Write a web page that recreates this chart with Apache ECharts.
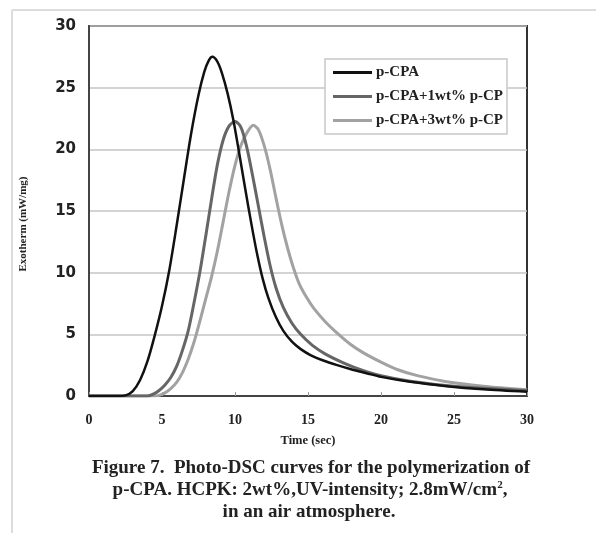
<!DOCTYPE html>
<html>
<head>
<meta charset="utf-8">
<script src="https://cdn.jsdelivr.net/npm/echarts@6/dist/echarts.min.js"></script>
<style>
html,body{margin:0;padding:0;background:#fff;}
#chart{width:596px;height:533px;}
</style>
</head>
<body>
<div id="chart"></div>
<script>
// ---- data ----
var seriesNames = ['p-CPA', 'p-CPA+1wt% p-CP', 'p-CPA+3wt% p-CP'];

var timeCPA = [0, 1, 2, 2.5, 3.0, 3.5, 4.0, 4.5, 5.0, 5.5, 6.0, 6.5, 7.0, 7.5, 7.9, 8.2, 8.45, 8.8, 9.1, 9.5, 9.9, 10.3, 10.7, 11.1, 11.5, 11.9, 12.3, 12.8, 13.3, 13.9, 14.5, 15.2, 16.0, 17.0, 18.0, 19.0, 20, 22, 24.5, 27, 30];
var exoCPA  = [0, 0, 0, 0.05, 0.4, 1.3, 2.8, 4.9, 7.3, 10.2, 13.8, 17.6, 21.3, 24.4, 26.3, 27.2, 27.5, 27.1, 26.2, 24.5, 22.3, 19.6, 16.8, 14.1, 11.6, 9.5, 7.9, 6.4, 5.3, 4.4, 3.8, 3.3, 2.9, 2.5, 2.15, 1.85, 1.55, 1.15, 0.8, 0.55, 0.35];

var time1wt = [0, 2, 4.0, 4.4, 4.8, 5.2, 5.6, 6.0, 6.4, 6.8, 7.2, 7.6, 8.0, 8.4, 8.8, 9.2, 9.6, 10.0, 10.4, 10.8, 11.2, 11.6, 12.0, 12.4, 12.8, 13.3, 13.9, 14.5, 15.3, 16.2, 17.5, 18.7, 20, 22, 25, 30];
var exo1wt  = [0, 0, 0, 0.15, 0.45, 0.9, 1.5, 2.4, 3.7, 5.3, 7.6, 10.1, 13.0, 16.0, 18.8, 20.8, 21.9, 22.25, 21.8, 20.2, 17.9, 15.4, 12.9, 10.6, 8.8, 7.2, 5.9, 5.0, 4.1, 3.4, 2.65, 2.1, 1.65, 1.2, 0.8, 0.45];

var time3wt = [0, 3, 4.4, 4.8, 5.2, 5.6, 6.0, 6.4, 6.8, 7.2, 7.6, 8.0, 8.4, 8.8, 9.2, 9.6, 10.0, 10.4, 10.8, 11.25, 11.6, 12.0, 12.4, 12.8, 13.2, 13.6, 14.0, 14.4, 14.9, 15.4, 16.2, 17.0, 17.9, 18.8, 20.0, 21.1, 22.5, 24.5, 27, 30];
var exo3wt  = [0, 0, 0, 0.05, 0.25, 0.6, 1.1, 1.9, 3.0, 4.4, 6.1, 7.9, 9.7, 11.8, 14.2, 16.6, 18.7, 20.3, 21.3, 21.95, 21.6, 20.3, 18.4, 16.1, 13.9, 12.0, 10.4, 9.1, 8.0, 7.1, 6.0, 5.1, 4.2, 3.5, 2.75, 2.15, 1.65, 1.16, 0.8, 0.5];

var xTicks = [0, 5, 10, 15, 20, 25, 30];
var yTicks = [0, 5, 10, 15, 20, 25, 30];

var xTitle = 'Time (sec)';
var yTitle = 'Exotherm (mW/mg)';
var captionLines = [
  'Figure 7.  Photo-DSC curves for the polymerization of',
  'p-CPA. HCPK: 2wt%,UV-intensity; 2.8mW/cm',
  'in an air atmosphere.'
];

function pairs(xs, ys) { return xs.map(function (x, i) { return [x, ys[i]]; }); }

var SERIF = '"Liberation Serif", "Times New Roman", serif';
var SANS = '"DejaVu Sans", Arial, sans-serif';
var colors = ['#111111', '#666666', '#a2a2a2'];

var chart = echarts.init(document.getElementById('chart'), null, { renderer: 'canvas' });

chart.setOption({
  animation: false,
  backgroundColor: '#ffffff',
  grid: {
    left: 89, top: 26, right: 69, bottom: 137,
    show: true, borderColor: '#333', borderWidth: 2, backgroundColor: 'transparent'
  },
  legend: {
    orient: 'vertical',
    left: 325, top: 59,
    padding: [6, 4, 6, 8],
    itemGap: 9,
    itemWidth: 39, itemHeight: 3,
    icon: 'rect',
    backgroundColor: '#fff',
    borderColor: '#c8c8c8', borderWidth: 1.5,
    textStyle: { fontFamily: SERIF, fontWeight: 'bold', fontSize: 15, color: '#222', padding: [0, 0, 0, -1] },
    data: seriesNames
  },
  xAxis: {
    type: 'value', min: xTicks[0], max: xTicks[xTicks.length - 1], interval: 5,
    name: xTitle, nameLocation: 'middle', nameGap: 38,
    nameTextStyle: { fontFamily: SERIF, fontWeight: 'bold', fontSize: 12.5, color: '#222' },
    axisLine: { lineStyle: { color: '#444', width: 2 } },
    axisTick: { show: true, inside: true, length: 4, lineStyle: { color: '#999', width: 1 } },
    axisLabel: { margin: 17, fontFamily: SERIF, fontWeight: 'bold', fontSize: 14, color: '#222',
      formatter: function (v) { return xTicks.indexOf(v) >= 0 ? String(v) : ''; } },
    splitLine: { show: false }
  },
  yAxis: {
    type: 'value', min: yTicks[0], max: yTicks[yTicks.length - 1], interval: 5,
    axisLine: { show: true, lineStyle: { color: '#444', width: 2 } },
    axisTick: { show: false },
    axisLabel: { margin: 13, fontFamily: SANS, fontWeight: 'bold', fontSize: 15, color: '#222',
      formatter: function (v) { return yTicks.indexOf(v) >= 0 ? String(v) : ''; } },
    splitLine: { show: true, lineStyle: { color: '#c4c4c4', width: 1.5 } }
  },
  series: [
    { name: seriesNames[0], type: 'line', data: pairs(timeCPA, exoCPA), smooth: 0.3, showSymbol: false,
      lineStyle: { color: colors[0], width: 2.5 }, itemStyle: { color: colors[0] }, z: 4 },
    { name: seriesNames[1], type: 'line', data: pairs(time1wt, exo1wt), smooth: 0.3, showSymbol: false,
      lineStyle: { color: colors[1], width: 3 }, itemStyle: { color: colors[1] }, z: 3 },
    { name: seriesNames[2], type: 'line', data: pairs(time3wt, exo3wt), smooth: 0.3, showSymbol: false,
      lineStyle: { color: colors[2], width: 3 }, itemStyle: { color: colors[2] }, z: 2 }
  ],
  graphic: [
    { type: 'line', shape: { x1: 12, y1: 10, x2: 596, y2: 10 }, style: { stroke: '#dcdcdc', lineWidth: 2 }, silent: true },
    { type: 'line', shape: { x1: 12, y1: 10, x2: 12, y2: 533 }, style: { stroke: '#dcdcdc', lineWidth: 2 }, silent: true },
    { type: 'text', x: 23, y: 224, rotation: Math.PI / 2, silent: true,
      style: { text: yTitle, fontFamily: SERIF, fontWeight: 'bold', fontSize: 11, fill: '#222', textAlign: 'center', textVerticalAlign: 'middle' } },
    { type: 'text', x: 311, y: 468, silent: true,
      style: { text: captionLines[0], fontFamily: SERIF, fontWeight: 'bold', fontSize: 19, fill: '#222', textAlign: 'center', textVerticalAlign: 'middle' } },
    { type: 'text', x: 310, y: 490, silent: true,
      style: { text: '{n|' + captionLines[1] + '}{s|2}{n|,}', textAlign: 'center', textVerticalAlign: 'middle',
        rich: {
          n: { fontFamily: SERIF, fontWeight: 'bold', fontSize: 19, fill: '#222', color: '#222', lineHeight: 20 },
          s: { fontFamily: SERIF, fontWeight: 'bold', fontSize: 11, fill: '#222', color: '#222', lineHeight: 20, padding: [0, 0, 9, 0] }
        } } },
    { type: 'text', x: 309, y: 512, silent: true,
      style: { text: captionLines[2], fontFamily: SERIF, fontWeight: 'bold', fontSize: 19, fill: '#222', textAlign: 'center', textVerticalAlign: 'middle' } }
  ]
});
</script>
</body>
</html>
